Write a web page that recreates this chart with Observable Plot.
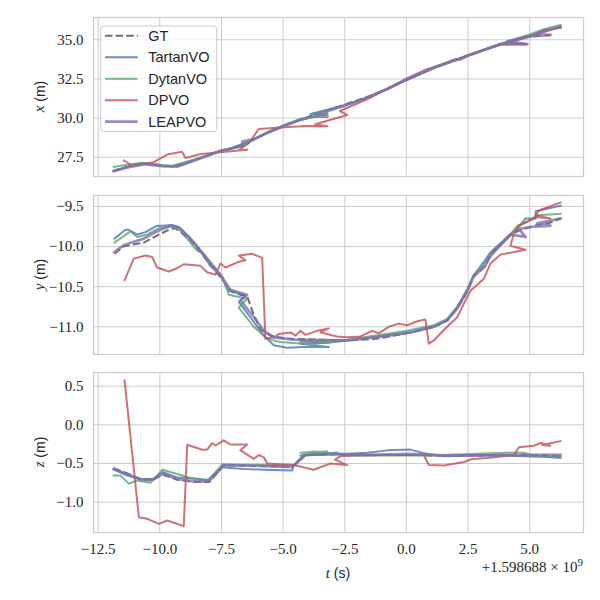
<!DOCTYPE html>
<html><head><meta charset="utf-8">
<script src="https://cdn.jsdelivr.net/npm/d3@7"></script>
<script src="https://cdn.jsdelivr.net/npm/@observablehq/plot@0.6"></script>
<style>
body{margin:0;background:#fff;}
#chart{position:relative;width:600px;height:600px;overflow:hidden;background:#fff;}
</style></head><body><div id="chart"></div>
<script>
// ---------- labels / ticks ----------
const seriesNames = ["GT","TartanVO","DytanVO","DPVO","LEAPVO"];
const seriesColors = ["#4a4a4a","#4C72B0","#55A868","#C44E52","#8172B2"];
const tTicks = [-12.5,-10,-7.5,-5,-2.5,0,2.5,5];
const xTicks = [27.5,30,32.5,35];
const yTicks = [-11,-10.5,-10,-9.5];
const zTicks = [-1,-0.5,0,0.5];
const panelLabels = ["x","y","z"];
const tLabel = "t";
const offsetText = "+1.598688";

// ---------- x (m) ----------
const gtX = [[-11.87,26.63],[-11.4,26.85],[-10.9,27.07],[-10.3,27.08],[-9.5,26.9],[-8.6,27.3],[-7.54,27.9],[-7.0,28.1],[-6.6,28.3],[-6.2,28.65],[-5.65,29.05],[-4.97,29.5],[-4.3,29.9],[-3.35,30.42],[-2.67,30.78],[-1.6,31.35],[-0.78,31.85],[0.03,32.45],[1.11,33.2],[2.46,33.97],[3.81,34.72],[4.9,35.2],[5.84,35.3]];
const tartanX = [[-11.87,26.6],[-11.2,26.95],[-10.6,27.1],[-9.8,26.92],[-9.2,26.95],[-8.6,27.3],[-7.54,27.9],[-6.66,28.2],[-7.0,28.15],[-6.2,28.6],[-5.65,29.05],[-4.97,29.5],[-4.3,29.88],[-3.2,30.3],[-3.9,30.25],[-2.67,30.75],[-1.6,31.3],[-0.78,31.85],[0.03,32.45],[1.11,33.2],[2.46,33.95],[3.81,34.7],[4.9,35.15],[5.6,35.6],[6.25,35.8]];
const dytanX = [[-11.87,26.88],[-11.2,27.05],[-10.7,27.15],[-10.0,27.0],[-9.5,26.95],[-8.6,27.35],[-7.54,27.92],[-6.6,28.25],[-6.2,28.6],[-5.65,29.1],[-4.97,29.55],[-4.3,29.95],[-3.2,30.25],[-3.8,30.3],[-2.67,30.7],[-1.6,31.3],[-0.78,31.85],[0.03,32.45],[1.11,33.2],[2.46,33.98],[3.81,34.75],[4.9,35.3],[5.6,35.7],[6.25,35.95]];
const dpvoX = [[-11.46,27.29],[-11.12,26.97],[-10.25,27.18],[-9.7,27.67],[-9.1,27.85],[-8.96,27.45],[-8.35,27.7],[-7.54,27.82],[-6.46,27.97],[-6.8,27.95],[-6.39,28.4],[-5.99,29.3],[-5.1,29.4],[-4.09,29.5],[-3.21,29.48],[-3.7,29.6],[-2.4,30.2],[-2.7,30.45],[-1.6,31.2],[-0.78,31.85],[0.03,32.55],[0.83,33.12],[1.5,33.45],[2.46,34.0],[3.81,34.7],[4.9,34.72],[4.1,34.85],[4.6,35.1],[5.5,35.45],[6.25,35.85]];
const leapX = [[-11.87,26.62],[-11.3,26.85],[-10.6,27.05],[-9.9,26.93],[-9.3,26.9],[-8.6,27.3],[-7.54,27.9],[-7.0,28.1],[-6.6,28.25],[-6.66,28.5],[-6.2,28.65],[-5.65,29.05],[-4.97,29.5],[-4.3,29.9],[-3.76,30.1],[-3.2,30.1],[-3.7,30.2],[-2.67,30.72],[-1.6,31.3],[-0.78,31.87],[0.03,32.48],[1.11,33.22],[2.0,33.75],[2.2,33.75],[2.46,33.98],[3.81,34.72],[4.9,34.72],[4.1,34.9],[4.9,35.2],[5.84,35.32],[5.2,35.35],[5.6,35.6],[6.25,35.8]];

// ---------- y (m) ----------
const gtY = [[-11.84,-10.09],[-11.46,-9.995],[-10.65,-9.95],[-10.04,-9.85],[-9.57,-9.78],[-9.37,-9.77],[-8.76,-9.92],[-8.35,-10.07],[-7.88,-10.25],[-7.54,-10.38],[-7.14,-10.55],[-6.73,-10.6],[-6.46,-10.62],[-6.19,-10.85],[-5.92,-11.03],[-5.51,-11.11],[-4.84,-11.15],[-3.48,-11.16],[-2.4,-11.17],[-1.2,-11.15],[0.16,-11.07],[1.11,-11.0],[1.65,-10.92],[2.06,-10.77],[2.46,-10.56],[2.73,-10.37],[3.2,-10.24],[3.41,-10.1],[3.88,-9.96],[4.22,-9.86],[4.56,-9.8],[5.17,-9.74],[5.84,-9.7],[6.25,-9.65]];
const tartanY = [[-11.84,-9.9],[-11.39,-9.79],[-11.26,-9.79],[-10.92,-9.85],[-10.58,-9.82],[-10.11,-9.74],[-9.9,-9.74],[-9.5,-9.73],[-9.2,-9.76],[-8.49,-9.99],[-7.95,-10.24],[-7.54,-10.36],[-7.2,-10.55],[-6.53,-10.61],[-6.8,-10.69],[-6.19,-10.94],[-5.78,-11.11],[-5.38,-11.23],[-4.84,-11.26],[-4.16,-11.25],[-3.15,-11.25],[-4.3,-11.21],[-3.2,-11.2],[-2.4,-11.17],[-0.92,-11.11],[0.16,-11.07],[1.11,-11.0],[1.65,-10.92],[2.06,-10.76],[2.46,-10.55],[2.73,-10.36],[3.14,-10.19],[3.41,-10.07],[3.88,-9.94],[4.22,-9.84],[4.49,-9.78],[4.83,-9.65],[5.24,-9.65],[5.24,-9.56],[6.25,-9.49]];
const dytanY = [[-11.84,-9.95],[-11.19,-9.81],[-10.92,-9.88],[-10.51,-9.85],[-10.04,-9.77],[-9.5,-9.75],[-9.16,-9.8],[-8.76,-9.95],[-8.49,-10.05],[-8.22,-10.09],[-7.81,-10.24],[-7.47,-10.38],[-7.2,-10.6],[-6.46,-10.65],[-6.8,-10.76],[-6.19,-11.0],[-5.65,-11.15],[-5.1,-11.19],[-4.16,-11.21],[-3.15,-11.2],[-4.3,-11.17],[-2.4,-11.16],[0.03,-11.05],[1.11,-10.98],[1.65,-10.9],[2.06,-10.75],[2.46,-10.53],[2.73,-10.35],[3.2,-10.2],[3.88,-9.96],[4.22,-9.85],[4.49,-9.74],[4.83,-9.7],[5.3,-9.61],[6.25,-9.59]];
const dpvoY = [[-11.43,-10.42],[-11.06,-10.15],[-10.58,-10.11],[-10.31,-10.13],[-10.11,-10.26],[-9.64,-10.31],[-9.3,-10.27],[-9.03,-10.22],[-8.35,-10.24],[-8.08,-10.32],[-7.74,-10.35],[-7.54,-10.21],[-7.34,-10.26],[-6.8,-10.19],[-6.53,-10.17],[-6.8,-10.11],[-6.25,-10.09],[-5.85,-10.14],[-5.72,-11.15],[-5.38,-11.13],[-5.18,-11.09],[-4.7,-11.07],[-4.5,-11.11],[-4.3,-11.05],[-4.09,-11.1],[-3.62,-11.05],[-3.15,-11.02],[-3.48,-11.07],[-2.81,-11.12],[-2.4,-11.13],[-1.86,-11.12],[-1.39,-11.05],[-1.12,-11.08],[-0.72,-11.0],[-0.31,-10.96],[0.03,-10.98],[0.44,-10.93],[0.77,-10.91],[0.91,-11.21],[1.11,-11.17],[1.65,-11.0],[2.06,-10.88],[2.33,-10.71],[2.6,-10.55],[3.14,-10.4],[3.41,-10.21],[3.81,-10.1],[4.83,-10.04],[4.22,-9.99],[4.35,-9.84],[4.56,-9.74],[5.3,-9.63],[5.84,-9.65],[5.24,-9.61],[5.37,-9.55],[6.25,-9.45]];
const leapY = [[-11.84,-10.07],[-11.46,-9.98],[-10.65,-9.9],[-10.04,-9.8],[-9.57,-9.74],[-9.23,-9.76],[-8.76,-9.9],[-8.35,-10.05],[-7.88,-10.24],[-7.54,-10.35],[-7.14,-10.54],[-6.46,-10.6],[-6.73,-10.67],[-6.19,-10.88],[-5.78,-11.05],[-5.38,-11.13],[-4.57,-11.16],[-3.08,-11.17],[-4.3,-11.18],[-2.4,-11.17],[-0.92,-11.12],[0.16,-11.07],[1.11,-11.0],[1.65,-10.92],[2.06,-10.77],[2.46,-10.56],[2.73,-10.37],[3.2,-10.24],[3.41,-10.1],[3.88,-9.96],[4.22,-9.85],[4.83,-9.88],[4.56,-9.78],[5.17,-9.75],[5.84,-9.74],[5.3,-9.71],[6.25,-9.65]];

// ---------- z (m) ----------
const gtZ = [[-11.87,-0.56],[-11.3,-0.63],[-10.8,-0.7],[-10.3,-0.72],[-9.9,-0.64],[-9.3,-0.71],[-8.6,-0.74],[-8.0,-0.74],[-7.4,-0.52],[-6.5,-0.53],[-4.6,-0.54],[-4.1,-0.39],[-2.8,-0.38],[-1.6,-0.39],[0.2,-0.39],[1.5,-0.4],[4.8,-0.39],[6.25,-0.4]];
const tartanZ = [[-11.87,-0.577],[-11.32,-0.655],[-10.78,-0.7],[-10.24,-0.7],[-9.9,-0.61],[-9.3,-0.68],[-8.62,-0.69],[-8.08,-0.72],[-7.47,-0.545],[-7.27,-0.555],[-6.6,-0.57],[-5.78,-0.58],[-4.63,-0.59],[-4.57,-0.525],[-4.09,-0.387],[-3.76,-0.375],[-2.81,-0.36],[-4.3,-0.396],[-2.4,-0.375],[-1.59,-0.36],[-0.78,-0.33],[0.16,-0.32],[0.84,-0.375],[1.51,-0.405],[2.73,-0.396],[3.81,-0.39],[4.76,-0.405],[6.25,-0.418]];
const dytanZ = [[-11.87,-0.655],[-11.6,-0.655],[-11.26,-0.76],[-10.92,-0.72],[-10.38,-0.75],[-9.9,-0.58],[-9.57,-0.61],[-8.62,-0.7],[-8.01,-0.71],[-7.47,-0.51],[-6.46,-0.52],[-4.57,-0.525],[-4.09,-0.353],[-3.21,-0.345],[-4.3,-0.36],[-3.76,-0.345],[-2.4,-0.396],[0.84,-0.396],[4.08,-0.36],[4.76,-0.36],[5.17,-0.4],[6.25,-0.43]];
const dpvoZ = [[-11.43,0.574],[-10.85,-1.194],[-10.51,-1.215],[-10.04,-1.28],[-9.7,-1.237],[-9.03,-1.31],[-8.89,-0.258],[-8.28,-0.322],[-8.08,-0.32],[-7.88,-0.237],[-7.74,-0.267],[-7.41,-0.2],[-7.14,-0.254],[-6.46,-0.254],[-6.73,-0.33],[-6.19,-0.44],[-5.99,-0.39],[-5.78,-0.42],[-5.65,-0.5],[-4.57,-0.52],[-4.16,-0.55],[-3.76,-0.58],[-3.08,-0.5],[-2.4,-0.52],[-2.9,-0.45],[-2.67,-0.405],[-1.59,-0.39],[0.7,-0.39],[0.91,-0.52],[1.51,-0.525],[2.33,-0.48],[2.67,-0.44],[3.27,-0.43],[4.35,-0.39],[4.56,-0.29],[5.17,-0.27],[5.44,-0.235],[5.84,-0.27],[5.5,-0.26],[6.25,-0.21]];
const leapZ = [[-11.87,-0.57],[-11.32,-0.635],[-10.78,-0.707],[-10.31,-0.71],[-9.9,-0.635],[-9.3,-0.7],[-8.62,-0.73],[-8.01,-0.73],[-7.41,-0.525],[-6.46,-0.525],[-4.63,-0.545],[-4.09,-0.387],[-2.81,-0.375],[-1.59,-0.39],[0.16,-0.375],[1.51,-0.396],[4.76,-0.39],[6.25,-0.39]];

// ---------- drawing ----------
const serifFont = "'Liberation Serif', 'DejaVu Serif', serif";
const sansFont = "'Liberation Sans', Arial, sans-serif";
const textColor = "#262626";
const fmt = d => (d < 0 ? "\u2212" : "") + Math.abs(d).toFixed(1);

const panels = [
  {series:[gtX,tartanX,dytanX,dpvoX,leapX], domain:[26.267,36.425], ticks:xTicks, top:0, mt:17, ih:159, mb:2},
  {series:[gtY,tartanY,dytanY,dpvoY,leapY], domain:[-11.345,-9.363], ticks:yTicks, top:178, mt:17, ih:159, mb:2},
  {series:[gtZ,tartanZ,dytanZ,dpvoZ,leapZ], domain:[-1.392,0.677], ticks:zTicks, top:356, mt:16, ih:160, mb:68}
];
const lineStyle = [
  {w:2, dash:"7.4,3.2"}, {w:2}, {w:2}, {w:2}, {w:2.8}
];

const chart = document.getElementById("chart");
panels.forEach((p, pi) => {
  const marks = [
    Plot.gridX(tTicks, {stroke:"#cccccc", strokeOpacity:1, strokeWidth:1}),
    Plot.gridY(p.ticks, {stroke:"#cccccc", strokeOpacity:1, strokeWidth:1})
  ];
  p.series.forEach((s, si) => {
    marks.push(Plot.line(s, {x: d => d[0], y: d => d[1], stroke: seriesColors[si],
      strokeOpacity: 0.8, strokeWidth: lineStyle[si].w, strokeDasharray: lineStyle[si].dash,
      strokeLinejoin:"round", strokeLinecap: lineStyle[si].dash ? "butt" : "square"}));
  });
  marks.push(Plot.frame({stroke:"#cccccc", strokeWidth:1.25}));
  marks.push(Plot.axisY(p.ticks, {tickSize:0, tickPadding:10, tickFormat:fmt, fontSize:15, fill:textColor, label:null}));
  if (pi === 2) {
    marks.push(Plot.axisX(tTicks, {tickSize:0, tickPadding:11, tickFormat:fmt, fontSize:15, fill:textColor, label:null}));
  }
  const svg = Plot.plot({
    width:600, height:p.mt+p.ih+p.mb,
    marginLeft:93, marginRight:17, marginTop:p.mt, marginBottom:p.mb,
    x:{domain:[-12.69,7.18], axis:null},
    y:{domain:p.domain, axis:null},
    style:{background:"transparent", overflow:"visible"},
    marks
  });
  svg.style.position = "absolute";
  svg.style.left = "0px";
  svg.style.top = p.top + "px";
  chart.appendChild(svg);

  const s = d3.select(svg);
  // force serif tick labels
  s.selectAll("text").style("font-family", serifFont).style("font-size","15px");

  // y-axis label
  const cy = p.mt + p.ih/2;
  const lab = s.append("text")
    .attr("transform", `translate(41,${cy}) rotate(-90)`)
    .style("text-anchor","middle").attr("dominant-baseline","middle")
    .attr("fill", textColor).style("font-size", "15px");
  lab.append("tspan").style("font-family", serifFont).style("font-style","italic").text(panelLabels[pi]);
  lab.append("tspan").style("font-family", sansFont).style("font-size","14px").text(" (m)");

  if (pi === 0) {
    const g = s.append("g");
    g.append("rect").attr("x",100.7).attr("y",26).attr("width",116).attr("height",105.5)
      .attr("rx",3).attr("fill","#ffffff").attr("fill-opacity",0.8)
      .attr("stroke","#cccccc").attr("stroke-width",1);
    seriesNames.forEach((n, i) => {
      const y = 35.7 + i*21.5;
      g.append("line").attr("x1",105).attr("x2",137.7).attr("y1",y).attr("y2",y)
        .attr("stroke", seriesColors[i]).attr("stroke-opacity",0.8)
        .attr("stroke-width", lineStyle[i].w).attr("stroke-dasharray", lineStyle[i].dash || null);
      g.append("text").attr("x",148.3).attr("y",y).attr("dominant-baseline","central")
        .style("text-anchor","start")
        .style("font-family", sansFont).style("font-size","14.5px").attr("fill",textColor).text(n);
    });
  }
  if (pi === 2) {
    const base = p.mt + p.ih;
    const tl = s.append("text").attr("x",338).attr("y", base + 46)
      .style("text-anchor","middle").attr("fill",textColor).style("font-size","15px");
    tl.append("tspan").style("font-family", serifFont).style("font-style","italic").text(tLabel);
    tl.append("tspan").style("font-family", sansFont).style("font-size","14px").text(" (s)");
    const off = s.append("text").attr("x",583).attr("y", base + 40)
      .style("text-anchor","end").attr("fill",textColor).style("font-size","15px")
      .style("font-family", serifFont);
    off.append("tspan").text(offsetText + " \u00d7 10");
    off.append("tspan").style("font-size","11px").attr("dy",-6).text("9");
  }
});
</script></body></html>
